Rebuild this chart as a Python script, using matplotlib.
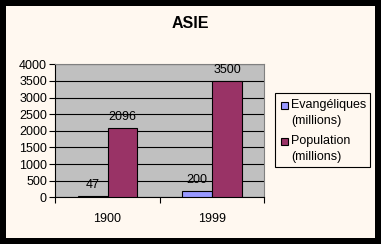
import numpy as np
import matplotlib.pyplot as plt
from matplotlib.patches import Rectangle

years = ['1900', '1999']
evangeliques = [47, 200]
population = [2096, 3500]
series_names = ['Evangéliques\n(millions)', 'Population\n(millions)']
series_colors = ['#9999FF', '#993366']
yticks = [0, 500, 1000, 1500, 2000, 2500, 3000, 3500, 4000]

plt.rcParams['font.family'] = ['Liberation Sans', 'DejaVu Sans']
fs = 9

W, H = 381, 244
fig = plt.figure(figsize=(W / 100, H / 100), dpi=100, facecolor='black')
bg = fig.add_axes([6 / W, 6 / H, 369 / W, 232 / H], zorder=-5)
bg.set_facecolor('#FFF8F0')
bg.set_xticks([])
bg.set_yticks([])
for s in bg.spines.values():
    s.set_visible(False)

ax = fig.add_axes([55.3 / W, (H - 197.3) / H, 209 / W, 133 / H], zorder=1)
ax.set_facecolor('#C0C0C0')

x = np.arange(len(years)) + 0.5
bw = 0.286
b1 = ax.bar(x - bw / 2, evangeliques, bw, color=series_colors[0], edgecolor='black', linewidth=0.8, zorder=3)
b2 = ax.bar(x + bw / 2, population, bw, color=series_colors[1], edgecolor='black', linewidth=0.8, zorder=3)

for bars in (b1, b2):
    for r in bars:
        ax.text(r.get_x() + r.get_width() / 2, r.get_height() + 140, str(int(r.get_height())),
                ha='center', va='bottom', fontsize=fs, zorder=4)

ax.set_xlim(0, len(years))
ax.set_ylim(0, 4000)
ax.set_yticks(yticks)
ax.yaxis.grid(True, color='black', linewidth=0.8, zorder=1)
ax.set_axisbelow(True)

ax.set_xticks([0, 1, 2])
ax.set_xticklabels([])
ax.set_xticks(x, minor=True)
ax.set_xticklabels(years, minor=True)
ax.tick_params(axis='x', which='minor', length=0, pad=11, labelsize=fs)
ax.tick_params(axis='x', which='major', length=4, width=0.8, direction='out')
ax.tick_params(axis='y', length=4, width=0.8, direction='out', labelsize=fs, pad=2)

for s in ('top', 'right'):
    ax.spines[s].set_color('#808080')
for s in ('left', 'bottom'):
    ax.spines[s].set_color('black')

fig.text(190 / W, 1 - 24 / H, 'ASIE', ha='center', va='center', fontsize=11.5, fontweight='bold')

# legend drawn by hand (square sits on the first line like in Excel)
fig.patches.append(Rectangle((275 / W, 1 - 167 / H), 95 / W, 74 / H, transform=fig.transFigure,
                             facecolor='#FFF8F0', edgecolor='black', linewidth=0.8, zorder=5))
for i, (name, col) in enumerate(zip(series_names, series_colors)):
    yc = 113 + i * 36
    fig.patches.append(Rectangle((281 / W, 1 - (yc - 4.5) / H), 6.5 / W, 6.5 / H,
                                 transform=fig.transFigure, facecolor=col,
                                 edgecolor='black', linewidth=0.8, zorder=6))
    fig.text(291.5 / W, 1 - yc / H, name, ha='left', va='center', fontsize=fs,
             linespacing=1.45, zorder=6)

fig.savefig('out.png', dpi=100, facecolor=fig.get_facecolor())
